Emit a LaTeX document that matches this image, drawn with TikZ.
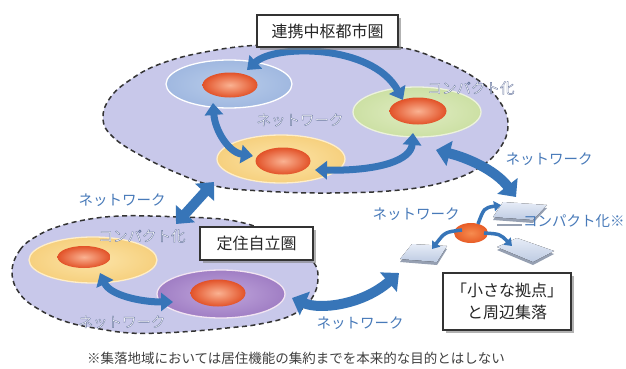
\documentclass[tikz,border=0pt]{standalone}
\usepackage{fontspec}
\newfontfamily\jp{Noto Sans CJK JP}
\usetikzlibrary{shapes.geometric,arrows.meta,calc,shadows}
\definecolor{lav}{RGB}{200,200,234}
\definecolor{arrowblue}{RGB}{55,117,184}
\definecolor{lblblue}{RGB}{72,122,185}
\definecolor{coreIn}{RGB}{250,178,146}
\definecolor{coreOut}{RGB}{226,82,40}
\definecolor{tileTop}{RGB}{230,236,247}
\definecolor{tileBot}{RGB}{190,203,226}
\definecolor{tileEdge}{RGB}{150,160,178}
\newcommand\outtext[1]{\special{pdf:literal direct 2 Tr 0.32 w 0.40 0.46 0.62 RG}#1\special{pdf:literal direct 0 Tr}}
\tikzset{
  region/.style={draw=black!80, dash pattern=on 5pt off 3.5pt, line width=1.5pt, fill=lav},
  city/.style={ellipse, inner sep=0pt, line width=1.3pt},
  core/.style={ellipse, inner sep=0pt, inner color=coreIn, outer color=coreOut},
  bigarrow/.style={draw=arrowblue, line width=10pt, arrows={Triangle[width=25pt,length=14pt]-Triangle[width=25pt,length=14pt]}},
  midarrow/.style={draw=arrowblue, line width=7pt, arrows={Triangle[width=18pt,length=12pt]-Triangle[width=18pt,length=12pt]}},
  smallarrow/.style={draw=arrowblue, line width=3.5pt, arrows={-Triangle[width=10pt,length=7pt]}},
  lbl/.style={text=lblblue, font=\jp\fontsize{14.5}{15}\selectfont, inner sep=0pt},
  wlbl/.style={text=white, font=\jp\fontsize{14.5}{15}\selectfont, inner sep=0pt},
  titlebox/.style={draw=black!80, line width=1.2pt, fill=white, text=black!85,
    font=\jp\fontsize{16}{22}\selectfont, align=center,
    drop shadow={shadow xshift=3pt, shadow yshift=-3pt, fill=black!50, opacity=0.6}},
  tiletop/.style={top color=tileTop, bottom color=tileBot},
  tileside/.style={fill=tileEdge},
}
\begin{document}
\begin{tikzpicture}[x=1pt,y=-1pt]
\useasboundingbox (0,0) rectangle (626,369);
\fill[white] (0,0) rectangle (626,369);

% regions
\draw[region] plot[smooth cycle, tension=0.7] coordinates {(260,45) (330,44) (397,47) (440,60) (478,80) (500,102) (508,125) (500,148) (480,167) (448,181) (400,190) (330,193) (262,191) (215,186) (177,173) (140,155) (113,137) (103,119) (110,98) (130,80) (160,64) (205,52)};
\draw[region] plot[smooth cycle, tension=0.7] coordinates {(12,272) (20,250) (37,236) (60,226) (90,219) (120,216) (150,216) (180,217) (207,218) (235,221) (265,230) (290,243) (310,258) (318,275) (312,298) (292,315) (260,324) (227,328) (195,331) (160,333) (130,333) (100,329) (67,322) (40,310) (20,294)};

% city areas
\node[city, draw=white, inner color={rgb,255:red,184;green,204;blue,234}, outer color={rgb,255:red,160;green,184;blue,224}, minimum width=126pt, minimum height=48pt] (e_blue) at (229,84) {};
\node[city, draw={rgb,255:red,236;green,242;blue,220}, inner color={rgb,255:red,224;green,236;blue,194}, outer color={rgb,255:red,204;green,224;blue,164}, minimum width=128pt, minimum height=50pt] (e_green) at (417,112) {};
\node[city, draw={rgb,255:red,255;green,238;blue,200}, inner color={rgb,255:red,252;green,228;blue,168}, outer color={rgb,255:red,246;green,208;blue,126}, minimum width=128pt, minimum height=48pt] (e_yel) at (281,159) {};
\node[city, draw={rgb,255:red,255;green,238;blue,200}, inner color={rgb,255:red,252;green,228;blue,168}, outer color={rgb,255:red,246;green,208;blue,126}, minimum width=128pt, minimum height=46pt] (e_yel2) at (93,260) {};
\node[city, draw=white!90!violet, inner color={rgb,255:red,192;green,166;blue,220}, outer color={rgb,255:red,160;green,126;blue,196}, minimum width=128pt, minimum height=48pt] (e_pur) at (221,294) {};

% cores
\node[core, minimum width=55pt, minimum height=25pt] (b_blue) at (230,85) {};
\node[core, minimum width=57pt, minimum height=27pt] (b_green) at (418,111) {};
\node[core, minimum width=55pt, minimum height=27pt] (b_yel) at (283,161) {};
\node[core, minimum width=53pt, minimum height=22pt] (b_yel2) at (84,257) {};
\node[core, minimum width=55pt, minimum height=27pt] (b_pur) at (218,293) {};

% settlement tiles
\coordinate (tup) at (517,212);
\coordinate (tleft) at (424,254);
\coordinate (tright) at (525,250);
\fill[tileside] (493,220) -- (503,205) -- (547,208) -- (533,223) -- cycle;
\fill[tiletop] (493,217) -- (503,202) -- (547,205) -- (533,220) -- cycle;
\fill[tileside] (400,262) -- (412,247) -- (447,249) -- (437,265) -- cycle;
\fill[tiletop] (400,259) -- (412,244) -- (447,246) -- (437,262) -- cycle;
\fill[tileside] (497,250) -- (517,241) -- (554,254) -- (533,265) -- cycle;
\fill[tiletop] (497,247) -- (517,238) -- (554,251) -- (533,262) -- cycle;
\node[ellipse, inner sep=0pt, inner color={rgb,255:red,246;green,140;blue,80}, outer color={rgb,255:red,232;green,92;blue,38}, minimum width=34pt, minimum height=20pt] (b_small) at (471,233) {};

% arrows inside the upper region
\draw[midarrow] ($(b_blue)+(17,-15)$) .. controls ($(b_blue)+(45,-41)$) and ($(b_green)+(-46,-67)$) .. ($(b_green)+(-15,-11)$);
\draw[midarrow] ($(e_blue)+(-16,19)$) .. controls ($(e_blue)+(-14,46)$) and ($(b_yel)+(-55,-9)$) .. ($(b_yel)+(-30,-5)$);
\draw[midarrow] ($(e_green)+(-4,21)$) .. controls ($(e_green)+(-6,48)$) and ($(b_yel)+(97,10)$) .. ($(b_yel)+(32,9)$);
% arrows inside the lower region
\draw[midarrow] ($(b_yel2)+(16,16)$) .. controls ($(b_yel2)+(26,38)$) and ($(e_pur)+(-81,8)$) .. ($(e_pur)+(-48,8)$);
% arrows between regions
\draw[bigarrow] ($(e_yel2)+(83,-36)$) -- ($(e_yel)+(-67,23)$);
\draw[bigarrow] ($(e_green)+(19,38)$) .. controls ($(e_green)+(51,46)$) and ($(tup)+(-22,-42)$) .. ($(tup)+(-1,-15)$);
\draw[bigarrow] ($(e_pur)+(71,4)$) .. controls ($(e_pur)+(99,16)$) and ($(tleft)+(-62,51)$) .. ($(tleft)+(-25,19)$);
% small arrows at the settlement
\draw[smallarrow] ($(b_small)+(7,-9)$) .. controls ($(b_small)+(13,-25)$) .. ($(tup)+(-16,-7)$);
\draw[smallarrow] ($(b_small)+(-9,-3)$) .. controls ($(b_small)+(-26,-1)$) .. ($(tleft)+(8,-5)$);
\draw[smallarrow] ($(b_small)+(13,0)$) .. controls ($(b_small)+(29,1)$) .. ($(tright)+(-13,-4)$);

% labels
\node[wlbl] (l1) at (471,88) {\outtext{コンパクト化}};
\node[wlbl] (l2) at (300,120) {\outtext{ネットワーク}};
\node[lbl] (l3) at (549,159) {ネットワーク};
\node[lbl] (l4) at (122,200) {ネットワーク};
\node[wlbl] (l5) at (142,236) {\outtext{コンパクト化}};
\node[wlbl] (l6) at (122,322) {\outtext{ネットワーク}};
\node[lbl] (l7) at (360,323) {ネットワーク};
\node[lbl] (l8) at (416,214) {ネットワーク};
\node[lbl, anchor=west] (l9) at (523,221) {コンパクト化※};
\draw[tileEdge, line width=1.5pt] ($(tup)+(-20,13)$) -- ($(l9.west)+(-1,4)$);

% boxes
\node[titlebox, minimum width=141pt, minimum height=32pt] (t1) at (327.5,31) {連携中枢都市圏};
\node[titlebox, minimum width=113pt, minimum height=33pt] (t2) at (256.5,243.5) {定住自立圏};
\node[titlebox, minimum width=128pt, minimum height=57pt] (t3) at (507,301.5) {「小さな拠点」\\と周辺集落};

% footnote
\node[text=black!75, font=\jp\fontsize{13.5}{15}\selectfont, inner sep=0pt] (fn) at (296,358) {※集落地域においては居住機能の集約までを本来的な目的とはしない};
\end{tikzpicture}
\end{document}
